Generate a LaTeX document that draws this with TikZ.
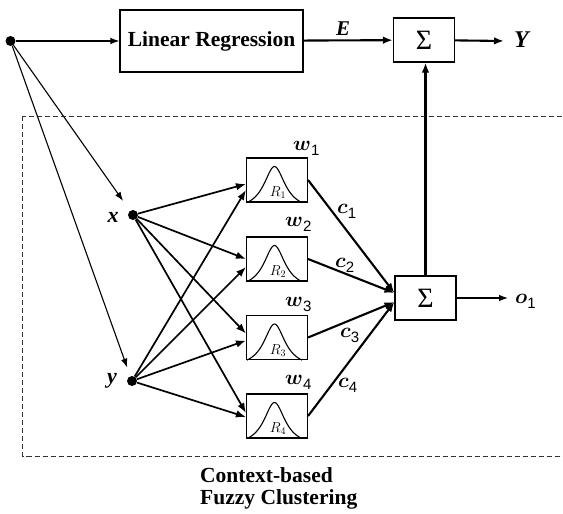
\documentclass[tikz,border=0pt]{standalone}
\usepackage{fontspec}
\usepackage{bm}
\setmainfont{Liberation Serif}
\newfontfamily\arialf{Liberation Sans}
\usetikzlibrary{arrows.meta}
\newcommand\lblsub[1]{\raisebox{-5pt}{\arialf\fontsize{15}{15}\selectfont #1}}
\begin{document}
\begin{tikzpicture}[x=1pt,y=-1pt,
  box/.style={draw, line width=1.1pt, inner sep=0pt, minimum width=61pt, minimum height=44pt},
  dot/.style={circle, fill, inner sep=0pt, minimum size=10pt},
  thinarr/.style={line width=1.1pt, -{Latex[length=9pt,width=6.5pt]}},
  midarr/.style={line width=1.7pt, -{Latex[length=10pt,width=7.5pt]}},
  thickarr/.style={line width=2.1pt, -{Latex[length=10pt,width=7.5pt]}},
  sig/.style={box, font=\fontsize{28}{28}\selectfont},
  lab/.style={inner sep=0pt, anchor=base west, font=\fontsize{21}{21}\selectfont},
  blab/.style={inner sep=0pt, anchor=base west, font=\bfseries\itshape\fontsize{21}{21}\selectfont},
  rlab/.style={inner sep=0pt, anchor=base, font=\fontsize{14}{14}\selectfont},
  bell/.style={line width=1.1pt},
  ]
\useasboundingbox (0,0) rectangle (563,514);

% dashed frame
\draw[line width=0.9pt, dash pattern=on 5pt off 3pt, black!80] (22.5,116) rectangle (640,456);

% input and top path
\node[dot] (in) at (10.5,41) {};
\node[draw, line width=1.1pt, minimum width=183pt, minimum height=62pt, inner sep=0pt,
      font=\bfseries\fontsize{21.5}{21.5}\selectfont] (lr) at (211.5,41) {Linear Regression};
\node[sig] (s1) at (424,40) {Σ};
\coordinate (yend) at (504,41);
\node[blab] (E) at (336,35) {E};
\node[blab, font=\bfseries\itshape\fontsize{24}{24}\selectfont] (Y) at (514,47) {Y};

\draw[thinarr] (in) -- (lr);
\draw[thickarr] (lr) -- (s1);
\draw[thickarr] (s1) -- (yend);

% inputs x, y
\node[dot] (xd) at (133,215) {};
\node[dot] (yd) at (132,381) {};
\node[blab, font=\bfseries\itshape\fontsize{22}{22}\selectfont] (xl) at (107.5,222) {x};
\node[blab, font=\bfseries\itshape\fontsize{22}{22}\selectfont] (yl) at (107,383) {y};
\draw[thinarr, shorten >=12pt] (in) -- (xd);
\draw[thinarr, shorten >=9pt] (in) -- (yd);

% rule boxes
\node[box] (r1) at (277,180) {};
\node[box] (r2) at (277,259) {};
\node[box] (r3) at (277,337.5) {};
\node[box] (r4) at (277,416) {};
\foreach \r/\i in {r1/1,r2/2,r3/3,r4/4}{
  \draw[bell, shift={([xshift=-2.5pt]\r.south)}]
    plot[domain=-27.5:27.5, samples=81, smooth] (\x, {-36*(1/(1+(\x/13)^2) - 0.18262)/0.81738});
  \node[rlab] (\r lab) at ([xshift=1pt,yshift=6pt]\r.south) {$R_{\i}$};
}

% w labels
\node[lab] (w1) at (293,150) {$\bm{w}$\lblsub{1}};
\node[lab] (w2) at (285,226) {$\bm{w}$\lblsub{2}};
\node[lab] (w3) at (285,306) {$\bm{w}$\lblsub{3}};
\node[lab] (w4) at (285,384) {$\bm{w}$\lblsub{4}};

% x,y to rules
\draw[midarr] (xd) -- ([yshift=-4pt]r1.west);
\draw[midarr] (yd) -- ([yshift=-10pt]r1.west);
\draw[midarr] (xd) -- ([yshift=0pt]r2.west);
\draw[midarr] (yd) -- ([yshift=-8pt]r2.west);
\draw[midarr] (xd) -- ([yshift=4pt]r3.west);
\draw[midarr] (yd) -- ([yshift=-3pt]r3.west);
\draw[midarr] (xd) -- ([yshift=3pt]r4.west);
\draw[midarr] (yd) -- ([yshift=-1pt]r4.west);

% lower sum
\node[sig] (s2) at (425.5,298) {Σ};
\coordinate (oend) at (508,298);
\draw[thinarr] (s2) -- (oend);
\node[lab] (o1) at (515,303) {$\bm{o}$\lblsub{1}};
\draw[thickarr] (s2.north) -- (s2.north |- s1.south);

% c connections
\draw[thickarr] (r1.east) -- ([yshift=5pt]s2.west);
\draw[thickarr] (r2.east) -- ([yshift=5pt]s2.west);
\draw[thickarr] (r3.east) -- ([yshift=-4pt]s2.west);
\draw[thickarr] (r4.east) -- ([yshift=-4pt]s2.west);
\node[lab] (c1) at (337,213) {$\bm{c}$\lblsub{1}};
\node[lab] (c2) at (335,267) {$\bm{c}$\lblsub{2}};
\node[lab] (c3) at (340,337) {$\bm{c}$\lblsub{3}};
\node[lab] (c4) at (338,387) {$\bm{c}$\lblsub{4}};

% caption
\node[anchor=north west, inner sep=0pt, align=left,
      font=\bfseries\fontsize{21.5}{22}\selectfont] (cap) at (200,467) {Context-based\\Fuzzy Clustering};
\end{tikzpicture}
\end{document}
